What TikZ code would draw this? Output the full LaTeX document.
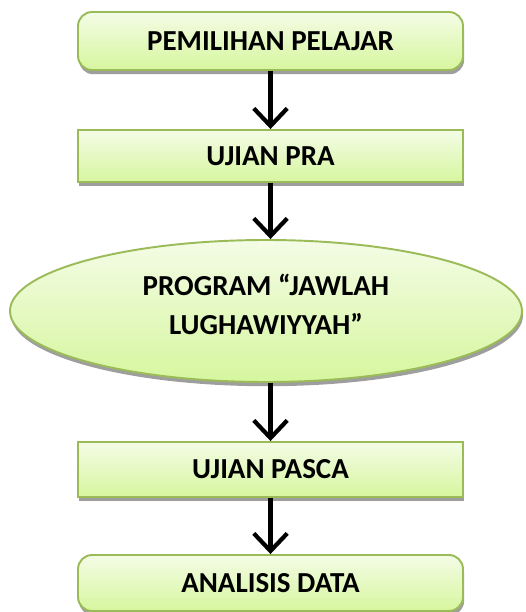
\documentclass[tikz,border=0pt]{standalone}
\usepackage{fontspec}
\setmainfont{Carlito}
\usepackage{tikz}
\usetikzlibrary{shapes.geometric,shadows,arrows.meta}

\definecolor{olivegreen}{RGB}{155,187,89}
\definecolor{palegreen}{RGB}{244,252,230}
\definecolor{limegreen}{RGB}{214,246,158}

\begin{document}
\begin{tikzpicture}[auto, line width=2.4pt,
  stage/.style={draw=olivegreen, line width=1.1pt, top color=palegreen, bottom color=limegreen,
    minimum width=7.7cm, inner sep=0pt, font=\fontsize{16.5}{20}\selectfont\bfseries,
    drop shadow={shadow xshift=0.6pt, shadow yshift=-2.4pt, fill=black!38, opacity=1}},
  roundstage/.style={stage, rounded corners=8pt},
  progellipse/.style={stage, ellipse, minimum width=10.24cm, minimum height=2.84cm, align=center},
  flow/.style={-{Straight Barb[length=10pt,width=19pt]}}]

\useasboundingbox (0,0) rectangle (10.52,-12.24);

\node[roundstage, minimum height=1.16cm] (pemilihan) at (5.41,-0.82) {PEMILIHAN PELAJAR};
\node[stage, minimum height=1.04cm] (pra) at (5.41,-3.12) {UJIAN PRA};
\node[progellipse] (program) at (5.32,-6.22) {PROGRAM “JAWLAH\\[2pt] LUGHAWIYYAH”\\[-12pt]};
\node[stage, minimum height=1.1cm] (pasca) at (5.41,-9.39) {UJIAN PASCA};
\node[roundstage, minimum height=1.12cm] (analisis) at (5.41,-11.66) {ANALISIS DATA};

\draw[flow] (pemilihan.south) -- (pra.north);
\draw[flow] (pra.south) -- (pra.south |- program.north);
\draw[flow] (pasca.north |- program.south) -- (pasca.north);
\draw[flow] (pasca.south) -- (analisis.north);
\end{tikzpicture}
\end{document}
